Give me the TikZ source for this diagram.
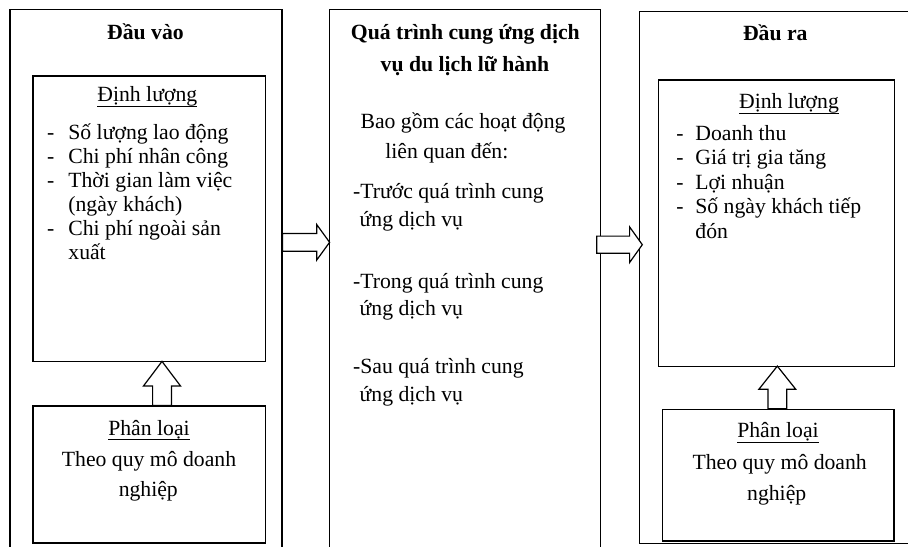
\documentclass[tikz,border=0pt]{standalone}
\usepackage{fontspec}
\setmainfont{Liberation Serif}
\usetikzlibrary{fit,shapes.arrows}

% underline at a fixed depth below the baseline
\newcommand{\undl}[1]{\setbox0\hbox{#1}\rlap{\rule[-2.6pt]{\wd0}{0.5pt}}\box0}
\newcommand{\dashL}{\makebox[10.65pt][l]{-}}
\newcommand{\dashR}{\makebox[9.5pt][l]{-}}

\tikzset{
  box/.style={draw, line width=0.6pt, inner sep=0pt},
  txt/.style={font=\fontsize{10.85}{12}\selectfont, inner sep=0pt, anchor=base west},
  ttl/.style={txt, font=\fontsize{10.85}{12}\selectfont\bfseries, anchor=base},
  blk/.style={single arrow, draw, fill=white, line width=0.6pt, outer sep=0pt,
              single arrow head indent=0pt, anchor=tail}
}

\begin{document}
\begin{tikzpicture}[x=0.5pt, y=-0.5pt]
        \useasboundingbox (0,0) rectangle (908,546);

        % ---- outer frames (cut by the page) ----
        \node[box, fit={(10,9.5) (282,570)}]       (inL)  {};
        \node[box, fit={(329.3,9.5) (600.3,570)}]  (proc) {};
        \node[box, fit={(639.5,11.7) (930,543.7)}] (outR) {};

        % ---- inner boxes ----
        \node[box, fit={(33,76) (265.7,361.7)}]    (qtyL) {};
        \node[box, fit={(33,406) (265.7,543)}]     (clsL) {};
        \node[box, fit={(658.3,80) (894.5,366.7)}] (qtyR) {};
        \node[box, fit={(662.7,409.3) (894,541)}]  (clsR) {};

        % ---- block arrows ----
        \node[blk, minimum height=23.5pt, inner sep=4.15pt, single arrow head extend=4.45pt,
              single arrow tip angle=108] (a1) at (inL.east |- 0,242.3) {};
        \node[blk, minimum height=22.8pt, inner sep=4pt, single arrow head extend=4.6pt,
              single arrow tip angle=109] (a2) at (596.7,244.7) {};
        \node[blk, shape border rotate=90, minimum height=22pt, inner sep=4.4pt,
              single arrow head extend=4.6pt, single arrow tip angle=74] (u1) at (162,0 |- clsL.north) {};
        \node[blk, shape border rotate=90, minimum height=21.3pt, inner sep=4.4pt,
              single arrow head extend=4.5pt, single arrow tip angle=77] (u2) at (777.3,0 |- clsR.north) {};

        % ---- input column ----
        \node[ttl] (tIn) at (145.5,39.5) {Đầu vào};
        \node[txt, anchor=base] (qL) at (147.3,101.5) {\undl{Định lượng}};
        \node[txt] (l1) at (46.7,139) {\dashL Số lượng lao động};
        \node[txt] (l2) at (46.7,163) {\dashL Chi phí nhân công};
        \node[txt] (l3) at (46.7,187) {\dashL Thời gian làm việc};
        \node[txt] (l4) at (68,211)   {(ngày khách)};
        \node[txt] (l5) at (46.7,235) {\dashL Chi phí ngoài sản};
        \node[txt] (l6) at (68,259)   {xuất};
        \node[txt, anchor=base] (cL1) at (149,435)   {\undl{Phân loại}};
        \node[txt, anchor=base] (cL2) at (149,466)   {Theo quy mô doanh};
        \node[txt, anchor=base] (cL3) at (148.3,496.7) {nghiệp};

        % ---- process column ----
        \node[ttl] (tP1) at (465.3,39.3) {Quá trình cung ứng dịch};
        \node[ttl] (tP2) at (465,71)     {vụ du lịch lữ hành};
        \node[txt, anchor=base] (p1) at (463,128.3) {Bao gồm các hoạt động};
        \node[txt] (p2) at (385,158.3)   {liên quan đến:};
        \node[txt] (p3) at (352.7,198)   {-Trước quá trình cung};
        \node[txt] (p4) at (359.3,226)   {ứng dịch vụ};
        \node[txt] (p5) at (352.7,288)   {-Trong quá trình cung};
        \node[txt] (p6) at (359.3,315)   {ứng dịch vụ};
        \node[txt] (p7) at (352.7,373.3) {-Sau quá trình cung};
        \node[txt] (p8) at (359.3,401)   {ứng dịch vụ};

        % ---- output column ----
        \node[ttl] (tOut) at (775.3,40.7) {Đầu ra};
        \node[txt, anchor=base] (qR) at (789,108.3) {\undl{Định lượng}};
        \node[txt] (r1) at (676,140)   {\dashR Doanh thu};
        \node[txt] (r2) at (676,164.5) {\dashR Giá trị gia tăng};
        \node[txt] (r3) at (676,189)   {\dashR Lợi nhuận};
        \node[txt] (r4) at (676,213.5) {\dashR Số ngày khách tiếp};
        \node[txt] (r5) at (695,238)   {đón};
        \node[txt, anchor=base] (cR1) at (778,437.7)   {\undl{Phân loại}};
        \node[txt, anchor=base] (cR2) at (779.7,469)   {Theo quy mô doanh};
        \node[txt, anchor=base] (cR3) at (776.7,500)   {nghiệp};

      \end{tikzpicture}
\end{document}
